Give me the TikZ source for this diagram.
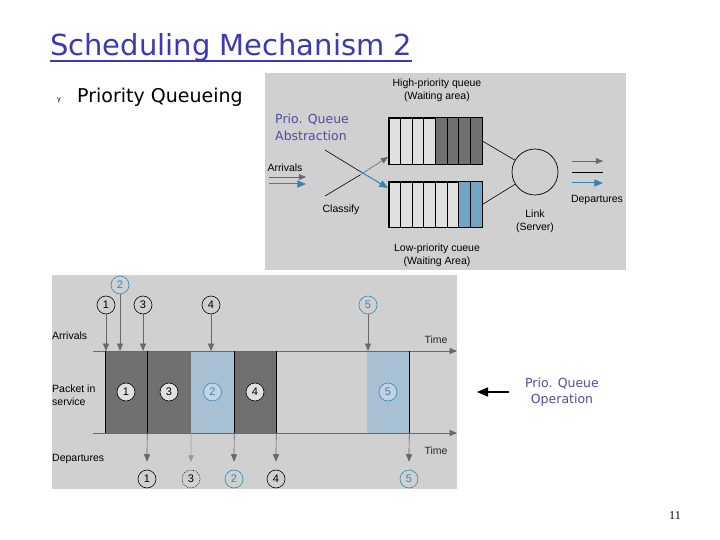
\documentclass[tikz,border=0pt]{standalone}
\usepackage{fontspec}
\setmainfont{DejaVu Sans}
\newfontfamily\labelfont{Liberation Sans}
\newfontfamily\pagefont{Liberation Serif}
\usepackage{tikz}
\usetikzlibrary{positioning, arrows}

\definecolor{titleblue}{RGB}{58,58,178}
\definecolor{noteblue}{RGB}{78,78,160}
\definecolor{panelgray}{RGB}{208,208,208}
\definecolor{cellgray}{RGB}{224,224,224}
\definecolor{slotdark}{RGB}{112,112,112}
\definecolor{slotblue}{RGB}{112,165,198}
\definecolor{svcblue}{RGB}{168,192,212}
\definecolor{pktblue}{RGB}{50,135,178}
\definecolor{arrgray}{RGB}{105,105,105}

\begin{document}
\begin{tikzpicture}[x=1pt, y=-1pt, >=triangle 45,
    lbl/.style={font=\labelfont\fontsize{10.5}{13}\selectfont, inner sep=0, align=center},
    note/.style={font=\fontsize{12.5}{16.5}\selectfont, text=noteblue, inner sep=0},
    queue/.style={draw, fill=cellgray, line width=0.6, minimum width=93, inner sep=0},
    slot/.style={minimum width=42, minimum height=82, inner sep=0},
    pkt/.style={circle, draw, line width=0.6, minimum size=18, inner sep=0, font=\labelfont\fontsize{11}{11}\selectfont},
    hipkt/.style={pkt, draw=pktblue, text=pktblue},
    axis/.style={->, arrgray, line width=0.7},
    drop/.style={->, arrgray, line width=0.7}]
    \useasboundingbox (0,0) rectangle (720,540);

    % heading
    \node[anchor=base west, inner sep=0, text=titleblue, font=\fontsize{29}{32}\selectfont] (title) at (50,56) {Scheduling Mechanism 2};
    \draw[titleblue, line width=1.2] ([yshift=-5pt]title.base west) -- ([yshift=-5pt]title.base east);
    \node[font=\fontsize{7}{7}\selectfont, inner sep=0] (bullet) at (59,100) {γ};
    \node[anchor=base west, inner sep=0, font=\fontsize{19}{21}\selectfont] (topic) at (77,103) {Priority Queueing};

    % abstraction panel
    \fill[panelgray] (265,73) rectangle (626,270);
    \node[lbl] (hilbl) at (437,90) {High-priority queue\\(Waiting area)};
    \node[lbl] (lolbl) at (437,255) {Low-priority cueue\\(Waiting Area)};
    \node[note, anchor=north west, align=left] (abstr) at (275,114) {Prio. Queue\\Abstraction};
    \node[queue, minimum height=46] (hiq) at (435.5,141) {};
    \node[queue, minimum height=45] (loq) at (435.5,204.5) {};
    \foreach \i in {4,...,7}
        \fill[slotdark] ([xshift=\i*11.625pt]hiq.north west) rectangle ++(11.625,46);
    \foreach \i in {6,7}
        \fill[slotblue] ([xshift=\i*11.625pt]loq.north west) rectangle ++(11.625,45);
    \foreach \i in {1,...,7} {
        \draw[line width=0.6] ([xshift=\i*11.625pt]hiq.north west) -- ([xshift=\i*11.625pt]hiq.south west);
        \draw[line width=0.6] ([xshift=\i*11.625pt]loq.north west) -- ([xshift=\i*11.625pt]loq.south west);
    }
    \draw[line width=0.6] (hiq.north west) rectangle (hiq.south east);
    \draw[line width=0.6] (loq.north west) rectangle (loq.south east);
    \node[circle, draw, line width=0.7, minimum size=46, inner sep=0] (link) at (535,172) {};
    \draw[line width=0.6] (hiq.east) -- (link);
    \draw[line width=0.6] (loq.east) -- (link);
    \node[lbl, below=14pt of link] (linklbl) {Link\\(Server)};

    \node[lbl] (arrlbl) at (285,168) {Arrivals};
    \coordinate (ingray) at (269,177);
    \coordinate (inblue) at (269,184);
    \draw[->, arrgray, line width=0.6] (ingray) -- ++(37,0);
    \draw[->, pktblue, line width=1] (inblue) -- ++(37,0);

    \coordinate (clsa) at (325,150);
    \coordinate (clsb) at (325,196);
    \coordinate (clsam) at (361,172);
    \coordinate (clsbm) at (360,175);
    \draw[line width=0.6] (clsa) -- (clsam);
    \draw[->, pktblue, line width=1] (clsam) -- (388,188);
    \draw[line width=0.6] (clsb) -- (clsbm);
    \draw[->, arrgray, line width=0.6] (clsbm) -- (388,157);
    \node[lbl] (clslbl) at (341,210) {Classify};

    \coordinate (outhi) at (572,161);
    \coordinate (outmid) at (572,172);
    \coordinate (outlo) at (572,183);
    \draw[->, arrgray, line width=0.6] (outhi) -- ++(31,0);
    \draw[line width=0.6] (outmid) -- ++(31,0);
    \draw[->, pktblue, line width=1] (outlo) -- ++(31,0);
    \node[lbl] (deplbl) at (597,200) {Departures};

    % operation panel
    \fill[panelgray] (52,275) rectangle (457,489);
    \coordinate (arrstart) at (93,351);
    \coordinate (depstart) at (93,433);
    \node[slot, fill=slotdark] (s1) at (126,392) {};
    \node[slot, fill=slotdark, minimum width=44] (s3) at (169,392) {};
    \node[slot, fill=svcblue, minimum width=43] (s2) at (212.5,392) {};
    \node[slot, fill=slotdark] (s4) at (255,392) {};
    \node[slot, fill=svcblue] (s5) at (388,392) {};
    \draw[axis] (arrstart) -- (457,351);
    \draw[axis] (depstart) -- (457,433);
    \draw[line width=0.6] (s1.north west) -- (s1.south west);
    \draw[line width=0.6] (s1.north east) -- (s1.south east);
    \draw[line width=0.6] (s2.north east) -- (s2.south east);
    \draw[line width=0.6] (s4.north east) -- (s4.south east);
    \draw[line width=0.6] (s5.north east) -- (s5.south east);
    \node[lbl, text=black!85] (timea) at (436,340) {Time};
    \node[lbl, text=black!85] (timed) at (436,451) {Time};
    \node[lbl, anchor=west] (arrtxt) at (52,336) {Arrivals};
    \node[lbl, anchor=west, align=left] (svctxt) at (52,395) {Packet in\\service};
    \node[lbl, anchor=west] (deptxt) at (52,459) {Departures};

    \node[pkt, fill=cellgray] (p1) at (s1) {1};
    \node[pkt, fill=cellgray] (p3) at (s3) {3};
    \node[hipkt, fill=svcblue!70!white] (p2) at (s2) {2};
    \node[pkt, fill=cellgray] (p4) at (s4) {4};
    \node[hipkt, fill=svcblue!70!white] (p5) at (s5) {5};

    \node[pkt] (a1) at (106,305) {1};
    \node[hipkt] (a2) at (120,285) {2};
    \node[pkt] (a3) at (143,305) {3};
    \node[pkt] (a4) at (211,305) {4};
    \node[hipkt] (a5) at (368,305) {5};
    \foreach \a in {a1,a2,a3,a4,a5}
        \draw[drop] (\a) -- (\a |- arrstart);

    \node[pkt] (d1) at (147,479) {1};
    \node[pkt, densely dotted] (d3) at (191,479) {3};
    \node[hipkt] (d2) at (234,479) {2};
    \node[pkt] (d4) at (276,479) {4};
    \node[hipkt] (d5) at (409,479) {5};
    \draw[drop] (s1.south east) -- ([yshift=8pt]d1.north);
    \draw[drop, arrgray!70, line width=0.4] (s3.south east) -- ([yshift=8pt]d3.north);
    \draw[drop] (s2.south east) -- ([yshift=8pt]d2.north);
    \draw[drop] (s4.south east) -- ([yshift=8pt]d4.north);
    \draw[drop] (s5.south east) -- ([yshift=8pt]d5.north);

    % side note
    \node[note, align=center] (opnote) at (562,392) {Prio. Queue\\Operation};
    \draw[->, line width=1.6] ([xshift=-16pt]opnote.west) -- ++(-32,0);

    \node[font=\pagefont\fontsize{12}{12}\selectfont, inner sep=0] (page) at (675,516) {11};
\end{tikzpicture}
\end{document}
